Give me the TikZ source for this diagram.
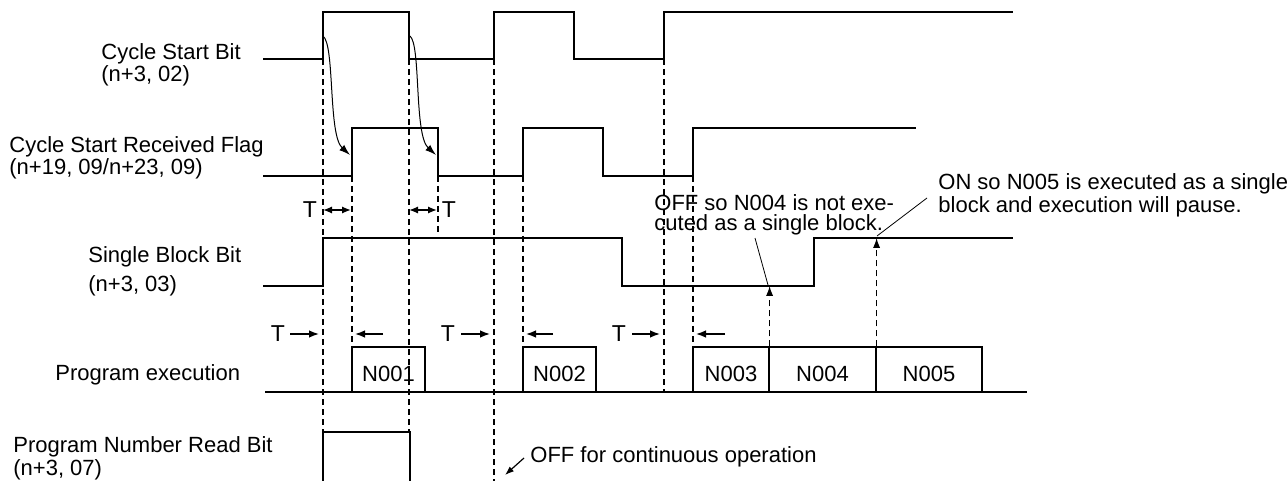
\documentclass[tikz,border=0pt]{standalone}
\usepackage{fontspec}
\setmainfont{Liberation Sans}
\usetikzlibrary{arrows.meta}

\begin{document}
\begin{tikzpicture}[x=0.5pt,y=-0.5pt,
    wave/.style={line width=1pt},
    guide/.style={dash pattern=on 3pt off 2pt,line width=0.6pt},
    lbl/.style={anchor=base west,align=left,inner sep=0,font={\fontsize{11}{10}\selectfont}},
    tlbl/.style={inner sep=0,font={\fontsize{11.5}{10}\selectfont}},
    exbox/.style={draw,line width=0.6pt,inner sep=0,minimum height=22.5pt,text height=11.5pt,text depth=0pt,font={\fontsize{11}{10}\selectfont}},
    tarr/.style={line width=0.8pt,-{Latex[length=5pt,width=3.8pt]}},
    causearr/.style={line width=0.5pt,-{Latex[length=5.5pt,width=3.6pt]}}]
    \useasboundingbox (0,0) rectangle (1287,481);
    % signal names
    \node[lbl] (csb) at (101,82) {Cycle Start Bit\\(n+3, 02)};
    \node[lbl] (csr) at (9,175) {Cycle Start Received Flag\\(n+19, 09/n+23, 09)};
    \node[lbl] (sbb) at (88,291.5) {Single Block Bit\\[3.3pt](n+3, 03)};
    \node[lbl] (pex) at (55,380) {Program execution};
    \node[lbl] (pnr) at (13,475) {Program Number Read Bit\\(n+3, 07)};
    % waveforms
    \draw[wave] (263,59) -| (323,12) -| (409,59) -| (494,12) -| (574,59) -| (664,12) -- (1013,12);
    \draw[wave] (263,176) -| (352,128) -| (438,176) -| (523,128) -| (603,176) -| (693,128) -- (916,128);
    \draw[wave] (263,286) -| (323,238) -| (622,286) -| (814,238) -- (1013,238);
    \draw[wave] (323,481) |- (410,432) -- (410,481);
    \draw[line width=0.6pt] (265,392) -- (1027,392);
    % executed blocks
    \node[exbox,minimum width=36.5pt] (n1) at (388.5,369.5) {N001};
    \node[exbox,minimum width=36.5pt] (n2) at (559.5,369.5) {N002};
    \node[exbox,minimum width=38pt] (n3) at (731,369.5) {N003};
    \node[exbox,minimum width=53.5pt] (n4) at (822.5,369.5) {N004};
    \node[exbox,minimum width=53pt] (n5) at (929,369.5) {N005};
    % timing guides
    \draw[guide] (323,59) -- (323,432);
    \draw[guide] (352,176) -- (352,347);
    \draw[guide] (409,59) -- (409,432);
    \draw[guide] (438,176) -- (438,233);
    \draw[guide] (494,59) -- (494,481);
    \draw[guide] (523,176) -- (523,347);
    \draw[guide] (664,59) -- (664,392);
    \draw[guide] (693,176) -- (693,347);
    % cause arrows
    \draw[causearr] (323,36) .. controls (335,45) and (328,135) .. (350,155);
    \draw[causearr] (410,36) .. controls (421,45) and (414,135) .. (436,155);
    % delays T
    \node[tlbl] (ta) at (310,210) {T};
    \node[tlbl] (tb) at (449,210) {T};
    \draw[line width=0.8pt,{Latex[length=4.5pt,width=3.6pt]}-{Latex[length=4.5pt,width=3.6pt]}] (323,210) -- (351,210);
    \draw[line width=0.8pt,{Latex[length=4.5pt,width=3.6pt]}-{Latex[length=4.5pt,width=3.6pt]}] (409,210) -- (437,210);
    \node[tlbl] (t1) at (278,334) {T};
    \node[tlbl] (t2) at (448,334) {T};
    \node[tlbl] (t3) at (619,334) {T};
    \draw[tarr] (290,334) -- (319,334);
    \draw[tarr] (461,334) -- (490,334);
    \draw[tarr] (632,334) -- (660,334);
    \draw[tarr] (383,334) -- (355,334);
    \draw[tarr] (553,334) -- (526,334);
    \draw[tarr] (725,334) -- (696,334);
    % single block checks
    \draw[guide,-{Latex[length=5pt,width=3.6pt]}] (n3.north east) -- (n3.north east |- 0,286);
    \draw[guide,-{Latex[length=5pt,width=3.6pt]}] (n4.north east) -- (n4.north east |- 0,238);
    \node[lbl] (offnote) at (654,230.5) {OFF so N004 is not exe-\\cuted as a single block.};
    \node[lbl] (onnote) at (938,212.5) {ON so N005 is executed as a single\\block and execution will pause.};
    \draw[line width=0.4pt] (755,238) -- (768,285);
    \draw[line width=0.4pt] (877,236) -- (927,198);
    \node[lbl] (contnote) at (530,462) {OFF for continuous operation};
    \draw[line width=0.6pt,-{Latex[length=4.5pt,width=3.2pt]}] (524,458) -- (505,475);
\end{tikzpicture}
\end{document}
